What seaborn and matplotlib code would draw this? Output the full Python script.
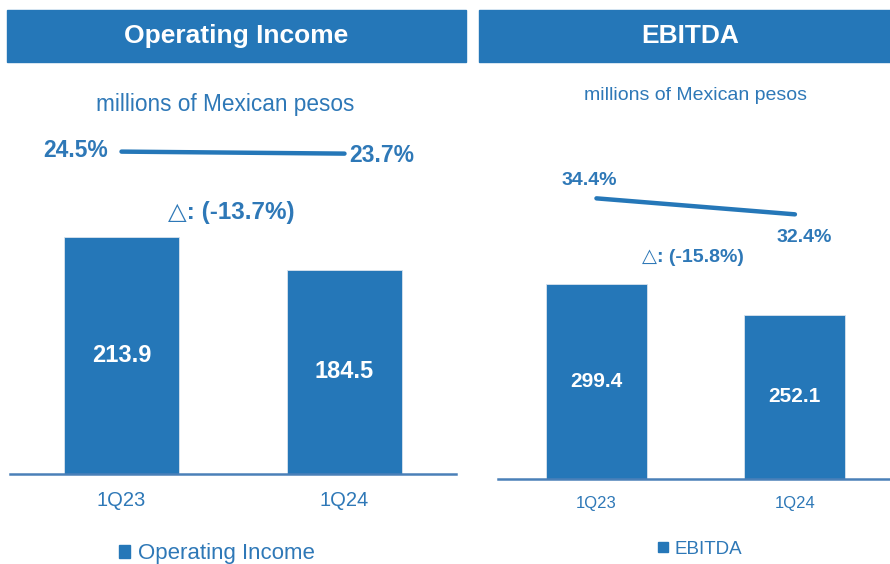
import matplotlib
matplotlib.use("Agg")
import matplotlib.pyplot as plt
from matplotlib.patches import Rectangle, Patch
import seaborn as sns
import pandas as pd

# Quarterly figures (millions of Mexican pesos) and margins (%)
quarters = ["1Q23", "1Q24"]
op_income = [213.9, 184.5]
op_margin = [24.5, 23.7]
op_change = "△: (-13.7%)"
ebitda = [299.4, 252.1]
ebitda_margin = [34.4, 32.4]
ebitda_change = "△: (-15.8%)"
unit_label = "millions of Mexican pesos"

BLUE = "#2577b8"
TEXT_BLUE = "#2e78b7"
AXIS_BLUE = "#4a80b8"
FONTS = ["Liberation Sans", "DejaVu Sans"]

sns.set_theme(style="white")
plt.rcParams["font.family"] = FONTS

W, H = 890, 564
fig = plt.figure(figsize=(W / 100, H / 100), dpi=100)


def px_axes(x0, y_top, x1, y_bottom):
    """Axes placed by pixel box (y measured from the top)."""
    return fig.add_axes([x0 / W, 1 - y_bottom / H, (x1 - x0) / W, (y_bottom - y_top) / H])


def header(x0, x1, text, size, text_x):
    fig.patches.append(Rectangle((x0 / W, 1 - 62 / H), (x1 - x0) / W, 52 / H,
                                 transform=fig.transFigure, color=BLUE, zorder=0))
    fig.text(text_x / W, 1 - 36 / H, text, ha="center", va="center",
             color="white", fontsize=size, fontweight="bold")


def panel(box, values, margins, ylim, ylim2, xlim, width, sizes, label_offsets,
          change, change_y, unit_y, legend_name, legend_y):
    ax = px_axes(*box)
    df = pd.DataFrame({"quarter": quarters, "value": values})
    sns.barplot(data=df, x="quarter", y="value", color=BLUE, width=width,
                saturation=1, ax=ax, edgecolor="#d9e3ee", linewidth=0.6)
    ax.set_ylim(*ylim)
    ax.set_xlim(*xlim)
    ax.set_xlabel("")
    ax.set_ylabel("")
    ax.set_yticks([])
    for s in ["top", "right", "left"]:
        ax.spines[s].set_visible(False)
    ax.spines["bottom"].set_color(AXIS_BLUE)
    ax.spines["bottom"].set_linewidth(1.8)
    ax.tick_params(axis="x", length=0, pad=sizes["tickpad"], labelsize=sizes["tick"],
                   labelcolor=TEXT_BLUE)
    for i, v in enumerate(values):
        ax.text(i, v / 2, f"{v:.1f}", ha="center", va="center", color="white",
                fontsize=sizes["value"], fontweight="bold")

    # margin line on its own scale
    ax2 = ax.twinx()
    mdf = pd.DataFrame({"x": [0, 1], "margin": margins})
    sns.lineplot(data=mdf, x="x", y="margin", color=BLUE, linewidth=3.2, ax=ax2,
                 solid_capstyle="round")
    ax2.set_ylim(*ylim2)
    ax2.set_xlim(*xlim)
    ax2.axis("off")
    for i, (m, off) in enumerate(zip(margins, label_offsets)):
        ax2.annotate(f"{m:.1f}%", (i, m), xytext=off, textcoords="offset points",
                     ha="center", va="center", color=TEXT_BLUE,
                     fontsize=sizes["margin"], fontweight="bold")

    fig.text(sizes["change_x"] / W, 1 - change_y / H, change, ha="center", va="center",
             color=TEXT_BLUE, fontsize=sizes["change"], fontweight="bold", family=FONTS)
    fig.text(sizes["unit_x"] / W, 1 - unit_y / H, unit_label, ha="center", va="center",
             color=TEXT_BLUE, fontsize=sizes["unit"])
    fig.legend(handles=[Patch(color=BLUE, label=legend_name)],
               loc="center", bbox_to_anchor=(sizes["legend_x"] / W, 1 - legend_y / H),
               frameon=False, fontsize=sizes["legend"], labelcolor=TEXT_BLUE,
               handlelength=0.5, handleheight=0.5, handletextpad=0.35)
    return ax


header(7, 466, "Operating Income", 19, 236)
header(479, 890, "EBITDA", 19, 690)

panel(box=(10, 120, 456, 474), values=op_income, margins=op_margin,
      ylim=(0, 320), ylim2=(-104.0, 37.1), xlim=(-0.5, 1.5), width=0.517,
      sizes=dict(tick=14.5, tickpad=12, value=17, margin=16.5, change=17.5, unit=16.3,
                 legend=16, change_x=231, unit_x=225, legend_x=217),
      label_offsets=[(-33, 1), (27, -1)],
      change=op_change, change_y=212, unit_y=105,
      legend_name="Operating Income", legend_y=554)

panel(box=(498, 120, 890, 479), values=ebitda, margins=ebitda_margin,
      ylim=(0, 551), ylim2=(-0.7, 44.2), xlim=(-0.496, 1.479), width=0.509,
      sizes=dict(tick=12, tickpad=12, value=15, margin=14, change=14, unit=14,
                 legend=13.5, change_x=693, unit_x=695, legend_x=700),
      label_offsets=[(-5.5, 13), (6.5, -16.5)],
      change=ebitda_change, change_y=258, unit_y=96,
      legend_name="EBITDA", legend_y=549)

fig.savefig("out.png", dpi=100)
